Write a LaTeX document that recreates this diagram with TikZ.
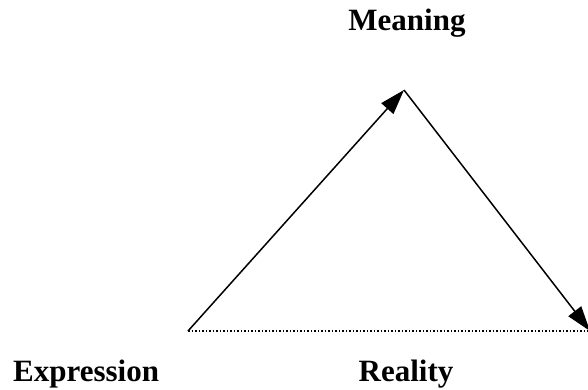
\documentclass[tikz,border=0pt]{standalone}
\usepackage{fontspec}
\setmainfont{Liberation Serif}
\usetikzlibrary{calc, positioning}
\usetikzlibrary{arrows.meta}

\begin{document}
\begin{tikzpicture}[x=1pt, y=-1pt]
\def\fsize{31}
\tikzset{
  label text/.style={font=\fontsize{\fsize}{37}\selectfont\bfseries, inner sep=0pt, anchor=base},
  edge arrow/.style={line width=1.5pt, -{Triangle[length=25pt, width=16pt]}}
}
\useasboundingbox (0,0) rectangle (588,390);

\coordinate (E) at (188,331);
\coordinate (M) at (404,90);
\coordinate (R) at (590,331);

\draw[edge arrow] (E) -- (M);
\draw[edge arrow] (M) -- (R);
\draw[line width=1.5pt, dotted] (E) -- (R);

\node[label text] (meaning) at (407,31) {Meaning};
\node[label text, anchor=base west] (expression) at (13,381) {Expression};
\node[label text] (reality) at (406,381) {Reality};
\end{tikzpicture}
\end{document}
